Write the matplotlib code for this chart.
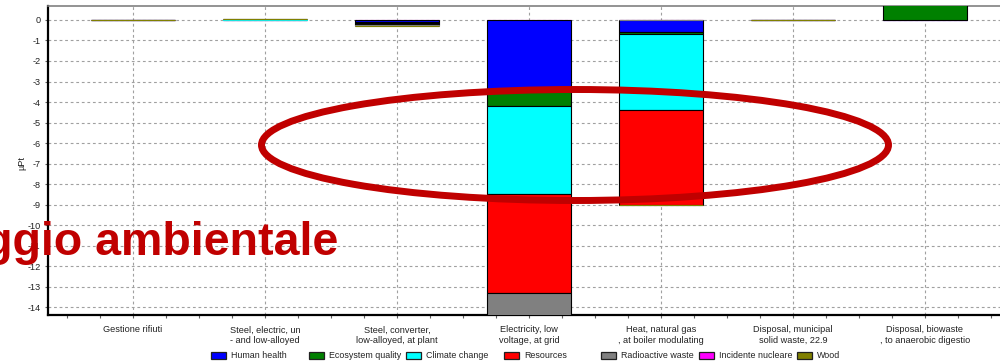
import numpy as np
import matplotlib.pyplot as plt
from matplotlib.patches import Ellipse, Rectangle

plt.rcParams['font.family'] = ['Liberation Sans', 'DejaVu Sans']

processes = ["Gestione rifiuti", "Steel, electric, un\n- and low-alloyed",
             "Steel, converter,\nlow-alloyed, at plant", "Electricity, low\nvoltage, at grid",
             "Heat, natural gas\n, at boiler modulating", "Disposal, municipal\nsolid waste, 22.9",
             "Disposal, biowaste\n, to anaerobic digestio"]

# damage categories in legend order (uPt)
human_health = [0.0, 0.0, -0.07, -3.42, -0.60, 0.0, 0.02]
ecosystem_quality = [0.0, 0.02, -0.05, -0.76, -0.07, 0.02, 0.90]
climate_change = [0.0, 0.02, -0.05, -4.30, -3.71, 0.0, 0.0]
resources = [0.0, 0.0, -0.06, -4.80, -4.62, 0.0, 0.0]
radioactive_waste = [0.0, 0.0, -0.02, -1.15, 0.0, 0.0, 0.0]
incidente_nucleare = [0.0, 0.0, -0.02, -0.02, -0.01, 0.0, 0.0]
wood = [0.01, 0.01, -0.02, -0.01, -0.02, 0.0, 0.0]

legend_names = ["Human health", "Ecosystem quality", "Climate change", "Resources",
                "Radioactive waste", "Incidente nucleare", "Wood"]
legend_series = [human_health, ecosystem_quality, climate_change, resources,
                 radioactive_waste, incidente_nucleare, wood]
colors = {"Human health": "#0000ff", "Ecosystem quality": "#008000", "Climate change": "#00ffff",
          "Resources": "#ff0000", "Radioactive waste": "#808080", "Incidente nucleare": "#ff00ff",
          "Wood": "#808000"}

# stacking order away from zero
stack_order = ["Incidente nucleare", "Human health", "Ecosystem quality", "Climate change",
               "Resources", "Radioactive waste", "Wood"]
series = dict(zip(legend_names, legend_series))

fig = plt.figure(figsize=(10, 3.62), dpi=100)
ax = fig.add_axes([0.048, 0.1298, 0.962, 0.8536])

x = np.arange(len(processes))
pos = np.zeros(len(processes))
neg = np.zeros(len(processes))
for name in stack_order:
    v = np.array(series[name])
    base = np.where(v >= 0, pos, neg)
    # very thin segments are drawn as a plain coloured line
    edges = [colors[name] if abs(val) < 0.03 else "black" for val in v]
    ax.bar(x, v, 0.64, bottom=base, color=colors[name], edgecolor=edges,
           linewidth=0.8, zorder=3)
    pos += np.where(v >= 0, v, 0)
    neg += np.where(v < 0, v, 0)

ax.set_xlim(-0.644, 6.644)
ax.set_ylim(-14.38, 0.68)
ax.set_yticks(np.arange(-14, 1))
ax.set_yticklabels([str(t) for t in range(-14, 1)])
ax.set_xticks(x)
ax.set_xticklabels(processes)
ax.set_xticks(np.arange(-0.5, 6.75, 0.25), minor=True)
ax.tick_params(axis="both", which="both", length=2.5, width=0.8, color="#606060",
               labelsize=6.6, labelcolor="#222222")
ax.tick_params(axis="x", which="major", pad=5)
ax.tick_params(axis="y", pad=3)

ax.grid(True, color="#a0a0a0", linestyle=(0, (2.5, 2.5)), linewidth=0.8, zorder=0)
ax.set_axisbelow(True)

ax.spines["left"].set_linewidth(1.6)
ax.spines["bottom"].set_linewidth(1.6)
ax.spines["top"].set_color("#808080")
ax.spines["top"].set_linewidth(1.2)
ax.spines["right"].set_visible(False)

fig.text(0.022, 0.55, "µPt", rotation=90, ha="center", va="center", fontsize=6.6, color="#222222")

# legend drawn in fixed-width columns
for i, name in enumerate(legend_names):
    x0 = 211 + 97.6 * i
    fig.patches.append(Rectangle((x0 / 1000, 1 - 359 / 362), 15 / 1000, 7 / 362,
                                 transform=fig.transFigure, facecolor=colors[name],
                                 edgecolor="#202020", linewidth=0.9))
    fig.text((x0 + 20) / 1000, 1 - 355.5 / 362, name, ha="left", va="center",
             fontsize=6.4, color="#222222")

# highlight overlay
fig.patches.append(Ellipse((0.575, 1 - 145 / 362), 0.627, 111 / 362, transform=fig.transFigure,
                           fill=False, edgecolor="#c00000", linewidth=5, zorder=10))
fig.text(0.338, 1 - 255 / 362, "Vantaggio ambientale", ha="right", va="baseline",
         fontsize=33.5, fontweight="bold", color="#c00000", zorder=10)

fig.savefig("out.png", dpi=100)
